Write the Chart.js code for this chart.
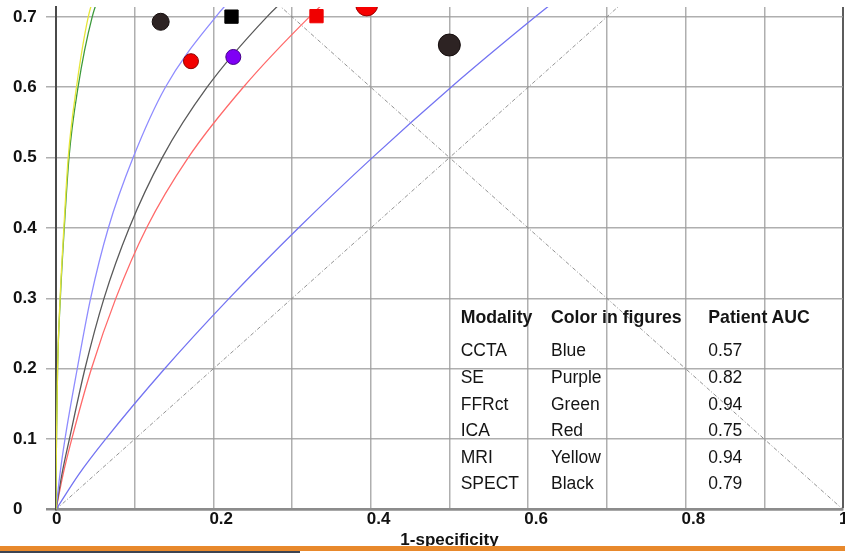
<!DOCTYPE html>
<html>
<head>
<meta charset="utf-8">
<script src="https://cdn.jsdelivr.net/npm/chart.js@4/dist/chart.umd.min.js"></script>
<style>
  html, body { margin: 0; padding: 0; background: #fff; }
  body { width: 845px; height: 553px; overflow: hidden; position: relative;
         font-family: "Liberation Sans", Arial, sans-serif; }
  #roc { position: absolute; left: 0; top: 0; width: 870px; height: 560px; }
  .cell { position: absolute; font-size: 17.5px; line-height: 20px; color: #151515; white-space: nowrap; }
  .head { font-weight: bold; font-size: 17.7px; }
  .band { position: absolute; left: 0; top: 546px; width: 845px; height: 5px; background: #e8892c; }
  .strip { position: absolute; left: 0; top: 551px; width: 300px; height: 2px; background: #3c4452; }
</style>
</head>
<body>
<canvas id="roc" width="870" height="560"></canvas>
<div id="legendTable"></div>
<div class="band"></div>
<div class="strip"></div>
<script>
// Sensitivity levels shared by every ROC curve
const tpr = [0, 0.05, 0.1, 0.2, 0.3, 0.4, 0.5, 0.6, 0.7, 0.75];

// 1-specificity at each sensitivity level, per modality
const cctaFpr  = [0, 0.029, 0.063, 0.138, 0.220, 0.308, 0.402, 0.502, 0.609, 0.665];
const seFpr    = [0, 0.005, 0.0114, 0.027, 0.044, 0.0665, 0.098, 0.139, 0.203, 0.243];
const ffrctFpr = [0, 0.0002, 0.0006, 0.002, 0.0055, 0.0105, 0.0165, 0.028, 0.046, 0.062];
const icaFpr   = [0, 0.009, 0.020, 0.045, 0.076, 0.115, 0.168, 0.238, 0.322, 0.370];
const mriFpr   = [0, 0.0002, 0.0006, 0.002, 0.0052, 0.010, 0.0155, 0.026, 0.041, 0.055];
const spectFpr = [0, 0.0075, 0.017, 0.0368, 0.061, 0.093, 0.135, 0.192, 0.268, 0.315];

// Reference diagonals
const chanceX = [0, 1];
const chanceY = [0, 1];
const crossX  = [0, 1];
const crossY  = [1, 0];

// Operating points (1-specificity, sensitivity)
const pointX = [0.133, 0.1715, 0.2253, 0.223, 0.331, 0.3948, 0.4998];
const pointY = [0.693, 0.637, 0.643, 0.7003, 0.701, 0.717, 0.660];

// Axis ticks
const xTicks = [0, 0.2, 0.4, 0.6, 0.8, 1];
const yTicks = [0, 0.1, 0.2, 0.3, 0.4, 0.5, 0.6, 0.7];

// Summary table
const tableHeader = ['Modality', 'Color in figures', 'Patient AUC'];
const modalities  = ['CCTA', 'SE', 'FFRct', 'ICA', 'MRI', 'SPECT'];
const colorNames  = ['Blue', 'Purple', 'Green', 'Red', 'Yellow', 'Black'];
const patientAuc  = [0.57, 0.82, 0.94, 0.75, 0.94, 0.79];

// ---- styles ----
const FONT = '"Liberation Sans", Arial, sans-serif';
const pointStyles = ['circle', 'circle', 'circle', 'rect', 'rect', 'circle', 'circle'];
const pointRadii  = [8.5, 7.5, 7.5, 9.4, 9.4, 11, 11];
const pointFills  = ['#2d2323', '#f20000', '#7f00f5', '#000000', '#f00000', '#f60000', '#2d2323'];
const pointEdges  = ['#140c0c', '#8a0000', '#45008a', '#000000', '#f00000', '#9a0000', '#140c0c'];

const toXY = (xs, ys) => xs.map((x, i) => ({ x: x, y: ys[i] }));

function curve(fpr, color) {
  return {
    data: toXY(fpr, tpr),
    showLine: true,
    borderColor: color,
    borderWidth: 1.3,
    pointRadius: 0,
    pointHoverRadius: 0,
    cubicInterpolationMode: 'monotone',
    fill: false
  };
}

function diagonal(xs, ys) {
  return {
    data: toXY(xs, ys),
    showLine: true,
    borderColor: 'rgba(135,135,135,0.9)',
    borderWidth: 1,
    borderDash: [4, 2, 1, 2],
    pointRadius: 0,
    tension: 0,
    fill: false
  };
}

const datasets = [
  {
    data: toXY(pointX, pointY),
    showLine: false,
    pointStyle: pointStyles,
    pointRadius: pointRadii,
    pointBackgroundColor: pointFills,
    pointBorderColor: pointEdges,
    pointBorderWidth: 1,
    clip: 0
  },
  curve(mriFpr, '#e6e63a'),
  curve(ffrctFpr, '#3d9a3d'),
  curve(seFpr, '#8f8cff'),
  curve(spectFpr, '#5a5a5a'),
  curve(icaFpr, '#ff6a6a'),
  curve(cctaFpr, '#7474f2'),
  diagonal(chanceX, chanceY),
  diagonal(crossX, crossY)
];

const tickFont = { family: FONT, size: 17, weight: 'bold' };
const gridGrey = 'rgba(155,155,155,0.8)';
const fmt = v => String(Math.round(v * 10) / 10);

new Chart(document.getElementById('roc'), {
  type: 'scatter',
  data: { datasets: datasets },
  options: {
    responsive: false,
    animation: false,
    devicePixelRatio: 1,
    events: [],
    layout: { autoPadding: false, padding: { left: 13, top: 7, right: 27, bottom: 9 } },
    plugins: { legend: { display: false }, tooltip: { enabled: false } },
    scales: {
      x: {
        type: 'linear',
        min: 0,
        max: 1,
        afterBuildTicks: s => {
          s.ticks = [0, 0.1, 0.2, 0.3, 0.4, 0.5, 0.6, 0.7, 0.8, 0.9, 1].map(v => ({ value: v }));
        },
        ticks: {
          autoSkip: false,
          maxRotation: 0,
          align: 'start',
          labelOffset: -4,
          padding: 0,
          color: '#121212',
          font: tickFont,
          callback: v => xTicks.some(t => Math.abs(t - v) < 1e-6) ? fmt(v) : ''
        },
        grid: {
          drawTicks: false,
          color: c => (c.tick && Math.abs(c.tick.value - 1) < 1e-6) ? '#5c5c5c' : gridGrey,
          lineWidth: c => (c.tick && Math.abs(c.tick.value - 1) < 1e-6) ? 2 : 1.5
        },
        border: { color: '#8c8c8c', width: 2.5 },
        title: {
          display: true,
          text: '1-specificity',
          color: '#121212',
          font: { family: FONT, size: 17, weight: 'bold' },
          padding: 0
        },
        afterFit: s => { s.height = 41.5; s.paddingLeft = 0; s.paddingRight = 0; }
      },
      y: {
        type: 'linear',
        min: 0,
        max: 0.714,
        afterBuildTicks: s => { s.ticks = yTicks.map(v => ({ value: v })); },
        ticks: {
          crossAlign: 'far',
          padding: 0,
          color: '#121212',
          font: tickFont,
          callback: v => fmt(v)
        },
        grid: {
          tickLength: 10,
          color: c => (c.tick && c.tick.value === 0) ? '#8c8c8c' : gridGrey,
          lineWidth: c => (c.tick && c.tick.value === 0) ? 2.5 : 1.5
        },
        border: { color: '#4a4a4a', width: 2 },
        afterFit: s => { s.width = 43; s.paddingTop = 0; s.paddingBottom = 0; }
      }
    }
  }
});

// Summary table over the lower right of the plot
(function buildTable() {
  const host = document.getElementById('legendTable');
  const colLeft = [460.7, 551, 708.3];
  const place = (text, left, top, bold) => {
    const d = document.createElement('div');
    d.className = 'cell' + (bold ? ' head' : '');
    d.style.left = left + 'px';
    d.style.top = top + 'px';
    d.textContent = text;
    host.appendChild(d);
  };
  tableHeader.forEach((h, j) => place(h, colLeft[j], 306.9, true));
  modalities.forEach((m, i) => {
    const top = 340.2 + i * 26.65;
    place(m, colLeft[0], top, false);
    place(colorNames[i], colLeft[1], top, false);
    place(patientAuc[i].toFixed(2), colLeft[2], top, false);
  });
})();
</script>
</body>
</html>
